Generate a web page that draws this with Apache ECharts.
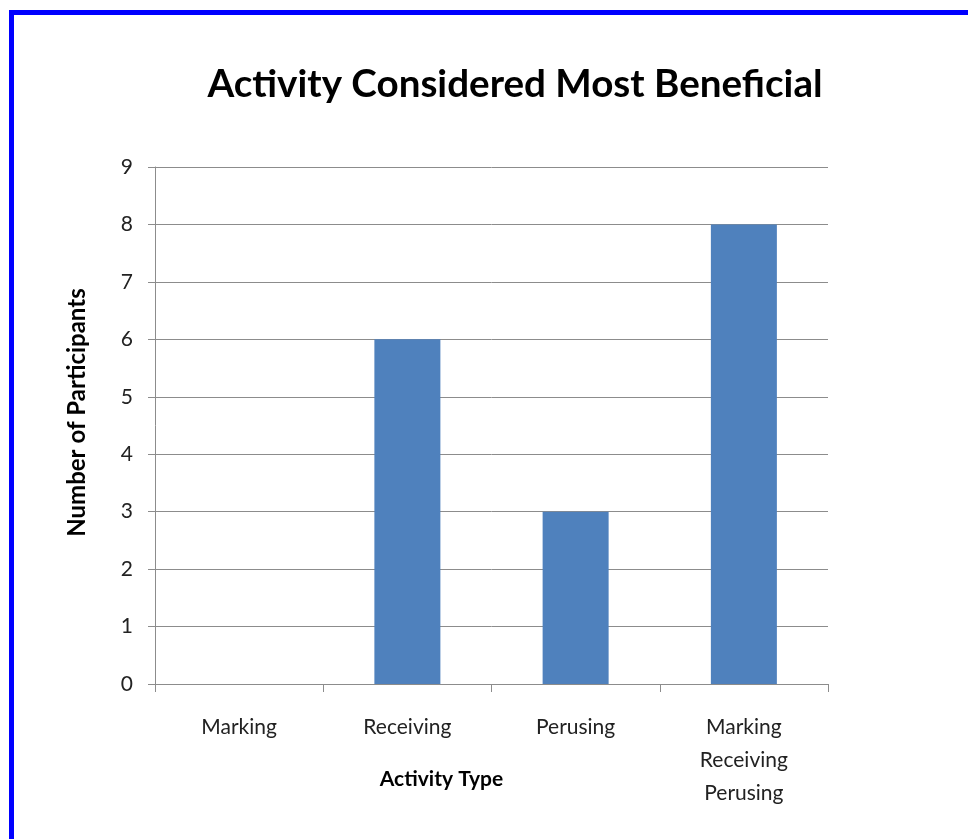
<!DOCTYPE html>
<html lang="en">
<head>
    <meta charset="UTF-8">
    <title>Activity Considered Most Beneficial</title>
    <script src="https://cdn.jsdelivr.net/npm/echarts@6/dist/echarts.min.js"></script>
    <style>
        html, body { margin: 0; padding: 0; background: #fff; }
    </style>
</head>
<body>
    <div id="chart" style="width: 968px; height: 839px;"></div>
<script>
    // data
    var categories = ['Marking', 'Receiving', 'Perusing', 'Marking\nReceiving\nPerusing'];
    var participants = [0, 6, 3, 8];
    var yTicks = [0, 1, 2, 3, 4, 5, 6, 7, 8, 9];

    var font = 'Lato';
    var grey = '#8c8c8c';

    var chart = echarts.init(document.getElementById('chart'));
    chart.setOption({
        animation: false,
        title: {
            text: 'Activity Considered Most Beneficial',
            left: 510,
            textAlign: 'center',
            top: 60,
            textStyle: { fontFamily: font, fontWeight: 'bold', fontSize: 38.6, color: '#000' }
        },
        graphic: [{
            type: 'rect',
            shape: { x: 11.5, y: 12.5, width: 1200, height: 1200 },
            style: { fill: 'none', stroke: '#0000ff', lineWidth: 5 }
        }],
        grid: { left: 155, right: 140, top: 167, bottom: 155 },
        xAxis: {
            type: 'category',
            data: categories,
            name: 'Activity Type',
            nameLocation: 'middle',
            nameGap: 85,
            nameMoveOverlap: false,
            nameTextStyle: { fontFamily: font, fontWeight: 'bold', fontSize: 21, color: '#000', padding: [0, 100, 0, 0] },
            axisLine: { lineStyle: { color: grey, width: 1 } },
            axisTick: { show: true, length: 8, alignWithLabel: false, lineStyle: { color: grey } },
            axisLabel: { fontFamily: font, fontSize: 21, color: '#222', margin: 27, lineHeight: 33 }
        },
        yAxis: {
            type: 'value',
            min: yTicks[0],
            max: yTicks[yTicks.length - 1],
            interval: 1,
            name: 'Number of Participants',
            nameLocation: 'middle',
            nameGap: 66,
            nameMoveOverlap: false,
            nameTextStyle: { fontFamily: font, fontWeight: 'bold', fontSize: 24, color: '#000', padding: [0, 0, 0, 26] },
            axisLine: { show: true, lineStyle: { color: grey, width: 1 } },
            axisTick: { show: true, length: 7, lineStyle: { color: grey } },
            axisLabel: { fontFamily: font, fontSize: 21, color: '#222', margin: 22 },
            splitLine: { lineStyle: { color: grey, width: 1 } }
        },
        series: [{
            type: 'bar',
            data: participants,
            barWidth: 66,
            itemStyle: { color: '#4f81bd' }
        }]
    });
    window.onresize = chart.resize;
</script>
</body>
</html>
